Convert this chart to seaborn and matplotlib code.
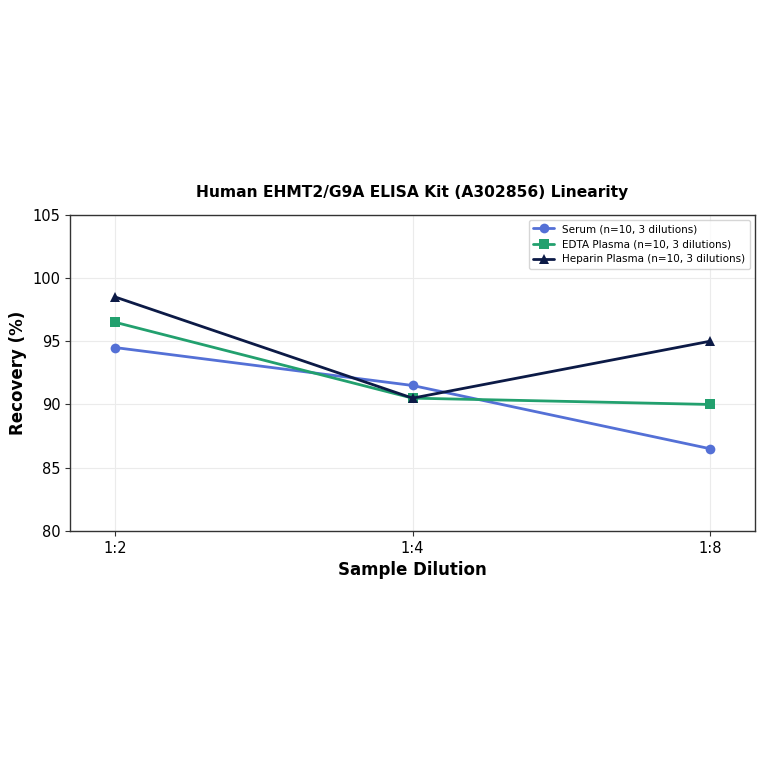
import pandas as pd
import matplotlib
matplotlib.use('Agg')
import matplotlib.pyplot as plt
import seaborn as sns

# Data
dilutions = ['1:2', '1:4', '1:8']
serum = [94.5, 91.5, 86.5]
edta_plasma = [96.5, 90.5, 90.0]
heparin_plasma = [98.5, 90.5, 95.0]
series_names = ['Serum (n=10, 3 dilutions)',
                'EDTA Plasma (n=10, 3 dilutions)',
                'Heparin Plasma (n=10, 3 dilutions)']

# Build long-form table
rows = []
for name, vals in zip(series_names, [serum, edta_plasma, heparin_plasma]):
    for i, v in enumerate(vals):
        rows.append({'Dilution': dilutions[i], 'x': i, 'Recovery': v, 'Sample': name})
df = pd.DataFrame(rows)

sns.set_style('ticks')
plt.rcParams['font.family'] = ['DejaVu Sans']
plt.rcParams['text.color'] = 'black'
plt.rcParams['axes.labelcolor'] = 'black'

fig = plt.figure(figsize=(7.64, 7.64), dpi=100)
ax = fig.add_axes([0.092, 0.305, 0.896, 0.414])

palette = {series_names[0]: '#5470d6',
           series_names[1]: '#22a06e',
           series_names[2]: '#0c1a46'}
markers = {series_names[0]: 'o', series_names[1]: 's', series_names[2]: '^'}

sns.lineplot(data=df, x='x', y='Recovery', hue='Sample', style='Sample',
             palette=palette, markers=markers, dashes=False, linewidth=2,
             markersize=7, markeredgewidth=0, ax=ax)

ax.set_xticks(range(len(dilutions)))
ax.set_xticklabels(dilutions)
ax.set_xlim(-0.15, 2.15)
ax.set_ylim(80, 105)
ax.set_yticks([80, 85, 90, 95, 100, 105])
ax.tick_params(labelsize=10.5, colors='#333333', labelcolor='black')
ax.grid(True, color='#ebebeb', linewidth=0.8)
ax.set_axisbelow(True)
for sp in ax.spines.values():
    sp.set_visible(True)
    sp.set_color('#333333')
    sp.set_linewidth(1.0)

ax.set_xlabel('Sample Dilution', fontsize=12, fontweight='bold')
ax.set_ylabel('Recovery (%)', fontsize=12, fontweight='bold')
ax.set_title('Human EHMT2/G9A ELISA Kit (A302856) Linearity',
             fontsize=11.2, fontweight='bold', pad=13)

leg = ax.legend(loc='upper right', fontsize=7.5, frameon=True, handlelength=2.0)
leg.get_frame().set_edgecolor('#cccccc')

fig.savefig('out.png', dpi=100)
